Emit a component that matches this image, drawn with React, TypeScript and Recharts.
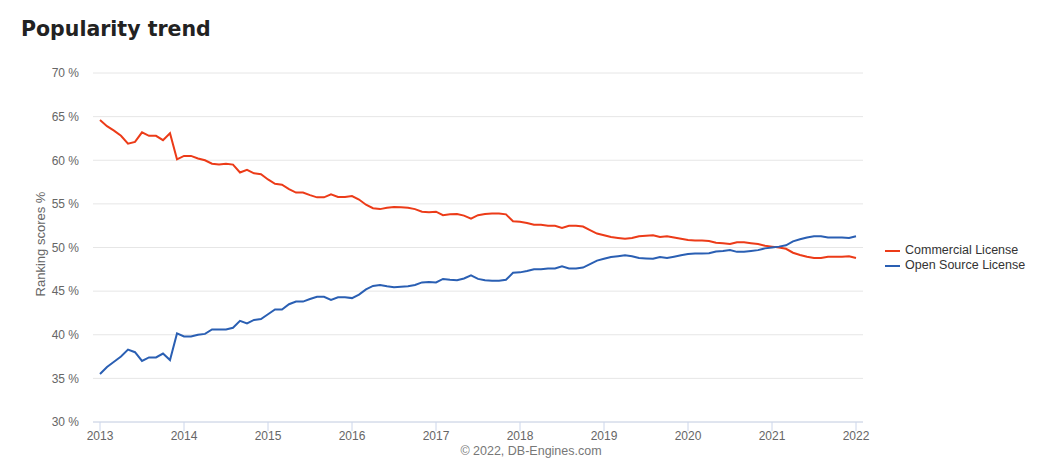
import React from 'react';
import { LineChart, Line, XAxis, YAxis, CartesianGrid } from 'recharts';

// Monthly values, Jan 2013 .. Jan 2022
const commercial: number[] = [
  64.6, 63.9, 63.4, 62.8, 61.9, 62.1, 63.2, 62.8, 62.8, 62.3, 63.1, 60.1,
  60.5, 60.5, 60.2, 60.0, 59.6, 59.5, 59.6, 59.5, 58.6, 58.9, 58.5, 58.4,
  57.8, 57.3, 57.2, 56.7, 56.3, 56.3, 56.0, 55.75, 55.75, 56.1, 55.8, 55.8,
  55.9, 55.5, 54.9, 54.5, 54.4, 54.55, 54.65, 54.6, 54.55, 54.4, 54.1, 54.05,
  54.1, 53.7, 53.8, 53.85, 53.65, 53.3, 53.7, 53.85, 53.9, 53.9, 53.8, 53.0,
  52.95, 52.8, 52.6, 52.6, 52.5, 52.5, 52.25, 52.5, 52.5, 52.4, 52.0, 51.6,
  51.4, 51.2, 51.1, 51.0, 51.1, 51.3, 51.35, 51.4, 51.2, 51.3, 51.15, 51.0,
  50.85, 50.8, 50.8, 50.75, 50.55, 50.5, 50.4, 50.6, 50.6, 50.5, 50.4, 50.2,
  50.1, 50.0, 49.85, 49.4, 49.15, 48.95, 48.8, 48.8, 48.95, 48.95, 48.95, 49.0,
  48.8,
];

const openSource: number[] = [
  35.5, 36.3, 36.9, 37.5, 38.3, 38.0, 37.0, 37.4, 37.4, 37.85, 37.1, 40.15,
  39.8, 39.8, 40.0, 40.1, 40.6, 40.6, 40.6, 40.8, 41.6, 41.3, 41.7, 41.8,
  42.35, 42.9, 42.9, 43.5, 43.8, 43.8, 44.1, 44.35, 44.35, 44.0, 44.3, 44.3,
  44.2, 44.6, 45.2, 45.6, 45.7, 45.55, 45.45, 45.5, 45.55, 45.7, 46.0, 46.05,
  46.0, 46.4, 46.3, 46.25, 46.45, 46.8, 46.4, 46.25, 46.2, 46.2, 46.3, 47.1,
  47.15, 47.3, 47.5, 47.5, 47.6, 47.6, 47.85, 47.6, 47.6, 47.7, 48.1, 48.5,
  48.7, 48.9, 49.0, 49.1, 49.0, 48.8, 48.75, 48.7, 48.9, 48.8, 48.95, 49.1,
  49.25, 49.3, 49.3, 49.35, 49.55, 49.6, 49.7, 49.5, 49.5, 49.6, 49.7, 49.9,
  50.0, 50.1, 50.25, 50.7, 50.95, 51.15, 51.3, 51.3, 51.15, 51.15, 51.15, 51.1,
  51.3,
];

const startYear = 2013;
const yearTicks: number[] = [2013, 2014, 2015, 2016, 2017, 2018, 2019, 2020, 2021, 2022];
const percentTicks: number[] = [30, 35, 40, 45, 50, 55, 60, 65, 70];

const seriesNames = { commercial: 'Commercial License', openSource: 'Open Source License' };
const RED = '#ec3b18';
const BLUE = '#2a5fb3';

const data = commercial.map((v, i) => ({
  t: startYear + i / 12,
  commercial: v,
  openSource: openSource[i],
}));

const FONT = '"Liberation Sans", Arial, sans-serif';

export default function App() {
  return (
    <div style={{ position: 'absolute', left: 0, top: 0, width: 1043, height: 458, background: '#fff' }}>
      <div
        style={{
          position: 'absolute',
          left: 21,
          top: 17,
          fontFamily: '"DejaVu Sans", Verdana, sans-serif',
          fontWeight: 'bold',
          fontSize: 20.5,
          color: '#222',
          whiteSpace: 'nowrap',
        }}
      >
        Popularity trend
      </div>
      <div
        style={{
          position: 'absolute',
          left: 40,
          top: 244,
          transform: 'translate(-50%, -50%) rotate(-90deg)',
          fontFamily: FONT,
          fontSize: 13,
          color: '#666',
          whiteSpace: 'nowrap',
        }}
      >
        Ranking scores %
      </div>
      <div
        style={{
          position: 'absolute',
          left: 531,
          top: 444,
          transform: 'translateX(-50%)',
          fontFamily: FONT,
          fontSize: 12.5,
          lineHeight: '14px',
          color: '#777',
          whiteSpace: 'nowrap',
        }}
      >
        © 2022, DB-Engines.com
      </div>
      <div
        style={{
          position: 'absolute',
          left: 885,
          top: 243,
          fontFamily: FONT,
          fontSize: 12.5,
          color: '#333',
          lineHeight: '15px',
          zIndex: 2,
        }}
      >
        {[
          { name: seriesNames.commercial, color: RED },
          { name: seriesNames.openSource, color: BLUE },
        ].map((it) => (
          <div key={it.name} style={{ display: 'flex', alignItems: 'center', whiteSpace: 'nowrap' }}>
            <span style={{ display: 'inline-block', width: 15, height: 2, background: it.color, marginRight: 5 }} />
            <span>{it.name}</span>
          </div>
        ))}
      </div>
      <LineChart
        width={1043}
        height={458}
        data={data}
        margin={{ top: 73, right: 180, bottom: 0, left: 33 }}
        style={{ position: 'absolute', left: 0, top: 0 }}
      >
        <CartesianGrid horizontal vertical={false} stroke="#e6e6e6" />
        <XAxis
          dataKey="t"
          type="number"
          domain={[2013, 2022]}
          ticks={yearTicks}
          padding={{ left: 7, right: 7 }}
          height={36}
          tickSize={9}
          tickMargin={0}
          stroke="#ccd6eb"
          tickLine={{ stroke: '#ccd6eb' }}
          axisLine={{ stroke: '#ccd6eb' }}
          tick={{ fill: '#666', fontSize: 12, fontFamily: FONT }}
          allowDecimals={false}
        />
        <YAxis
          type="number"
          domain={[30, 70]}
          ticks={percentTicks}
          width={60}
          tickSize={0}
          tickMargin={14}
          axisLine={false}
          tickLine={false}
          tick={{ fill: '#666', fontSize: 12, fontFamily: FONT }}
          tickFormatter={(v: number) => `${v} %`}
        />
        <Line
          type="linear"
          dataKey="commercial"
          name={seriesNames.commercial}
          stroke={RED}
          strokeWidth={2}
          dot={false}
          isAnimationActive={false}
        />
        <Line
          type="linear"
          dataKey="openSource"
          name={seriesNames.openSource}
          stroke={BLUE}
          strokeWidth={2}
          dot={false}
          isAnimationActive={false}
        />
      </LineChart>
    </div>
  );
}
